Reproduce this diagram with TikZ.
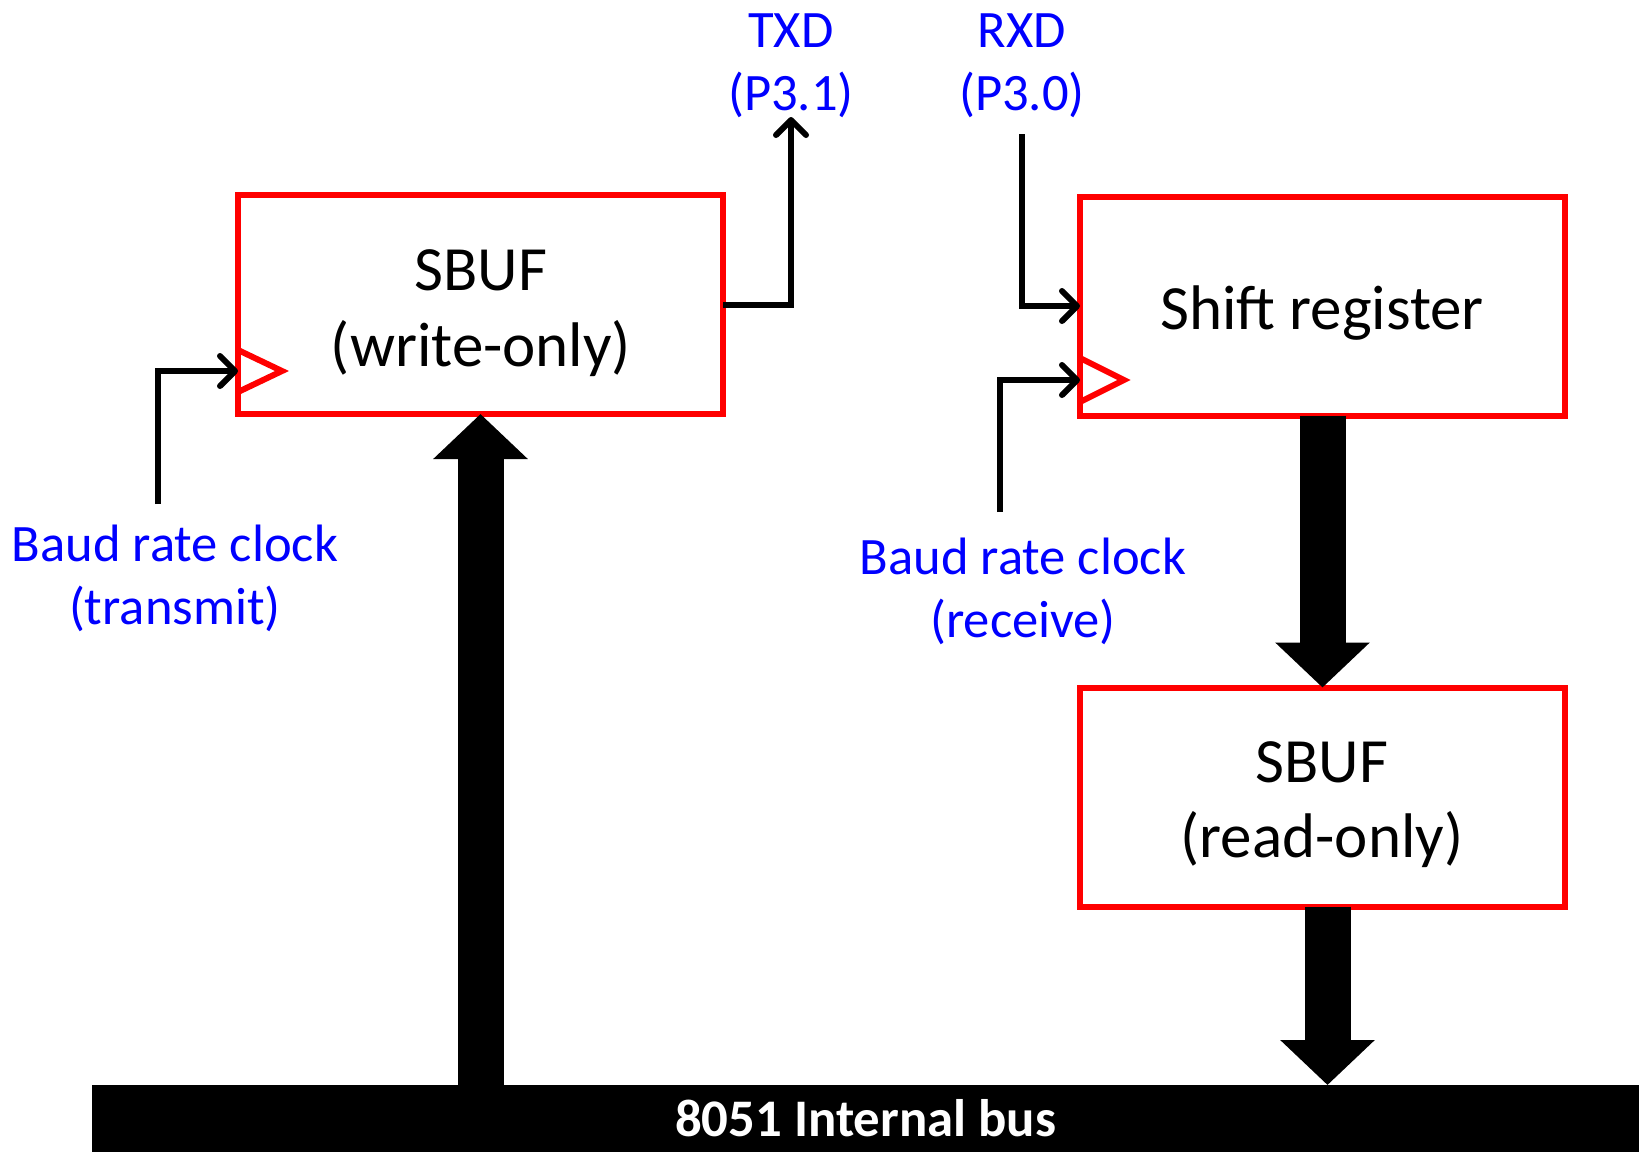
\documentclass[tikz,border=0pt]{standalone}
\usepackage{fontspec}
\setmainfont{Carlito}
\usetikzlibrary{arrows.meta,calc,shadows}

\definecolor{regred}{RGB}{255,0,0}
\definecolor{sigblue}{RGB}{0,0,255}

\begin{document}
\begin{tikzpicture}[x=0.5pt,y=-0.5pt,
  regbox/.style={draw=regred,line width=3pt,fill=white,
    minimum width=242.5pt,minimum height=109.5pt,inner sep=0pt,outer sep=0pt,
    drop shadow={shadow xshift=1pt,shadow yshift=-1.5pt,opacity=.25}},
  clockmark/.style={draw=regred,line width=3pt,line join=miter},
  boxtext/.style={font=\fontsize{31.5}{37.8}\selectfont,anchor=base,inner sep=0pt},
  sig/.style={font=\fontsize{26.3}{31.5}\selectfont,text=sigblue,anchor=base,inner sep=0pt},
  sigline/.style={draw,line width=3pt,
    -{Straight Barb[length=7.5pt,width=15pt,line cap=round,line join=round]}},
  bigarrow/.style={line width=23pt,-{Triangle[length=22.5pt,width=46pt]}},
  busbar/.style={fill=black,text=white,font=\bfseries\fontsize{26.4}{31.7}\selectfont,
    minimum width=773.5pt,minimum height=33.5pt,inner sep=0pt,outer sep=0pt}]

\useasboundingbox (0,0) rectangle (1639,1152);

% registers
\node[regbox] (sbufw) at (480.5,304.5) {};
\node[regbox] (shift) at (1322.5,306) {};
\node[regbox] (sbufr) at (1322.5,797) {};

% internal bus
\node[busbar] (bus) at (865.5,1118.5) {8051 Internal bus};

% clock inputs
\coordinate (clkw) at ($(sbufw.west)+(0,66.5)$);
\coordinate (clkr) at ($(shift.west)+(0,74)$);
\draw[clockmark] ($(clkw)+(0,-21)$) -- ($(clkw)+(44,0)$) -- ($(clkw)+(0,21)$);
\draw[clockmark] ($(clkr)+(0,-22)$) -- ($(clkr)+(44,0)$) -- ($(clkr)+(0,22)$);

% captions
\node[boxtext] (sbufwa) at (481,290) {SBUF};
\node[boxtext] (sbufwb) at (481,366) {(write-only)};
\node[boxtext] (shiftt) at (1322,329) {Shift register};
\node[boxtext] (sbufra) at (1322,782) {SBUF};
\node[boxtext] (sbufrb) at (1322,857) {(read-only)};

% pin and clock labels
\node[sig] (txd) at (791,47) {TXD};
\node[sig] (txdp) at (791,110) {(P3.1)};
\node[sig] (rxd) at (1022,47) {RXD};
\node[sig] (rxdp) at (1022,110) {(P3.0)};
\node[sig] (bclkt) at (175,561) {Baud rate clock};
\node[sig] (bclkt2) at (175,624) {(transmit)};
\node[sig] (bclkr) at (1023,574) {Baud rate clock};
\node[sig] (bclkr2) at (1023,637) {(receive)};

% serial signals
\coordinate (clkwsrc) at (158,504);
\coordinate (clkrsrc) at (1000,512);
\coordinate (txdpin) at (791,117);
\coordinate (rxdpin) at (1022,134);
\draw[sigline] (clkwsrc) |- (clkw);
\draw[sigline] (clkrsrc) |- (clkr);
\draw[sigline] (sbufw.east) -| (txdpin);
\draw[sigline] (rxdpin) |- (shift.west);

% data paths
\draw[bigarrow] (bus.north -| sbufw.south) -- (sbufw.south);
\draw[bigarrow] (shift.south) -- (sbufr.north);
\coordinate (rdout) at ($(sbufr.south)+(5,0)$);
\draw[bigarrow] (rdout) -- (rdout |- bus.north);
\end{tikzpicture}
\end{document}
